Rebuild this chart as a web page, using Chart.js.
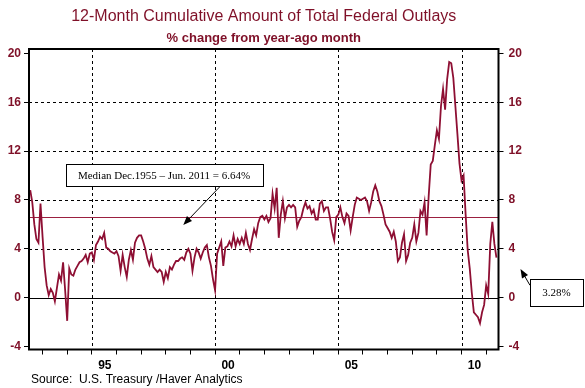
<!DOCTYPE html>
<html>
<head>
<meta charset="utf-8">
<script src="https://cdn.jsdelivr.net/npm/chart.js@4.4.0/dist/chart.umd.min.js"></script>
<style>
  html, body { margin: 0; padding: 0; background: #fff; }
  #wrap { width: 585px; height: 388px; }
</style>
</head>
<body>
<div id="wrap"><canvas id="outlaysChart" width="585" height="388"></canvas></div>
<script>
// 12-month cumulative federal outlays, % change y/y, monthly Jul 1992 - Jun 2011
var startYear = 1992;
var startMonth = 7;
var outlaysPct = [
  8.8, 7.8, 6.0, 4.8, 4.5, 7.7, 5.0, 2.5, 1.0, 0.2, 0.7, 0.4,
  -0.3, 0.8, 1.9, 1.4, 2.9, 0.6, -1.9, 2.4, 1.9, 1.8, 2.3, 2.6,
  2.9, 3.0, 3.2, 3.5, 2.9, 3.6, 3.7, 3.1, 4.3, 4.6, 5.0, 4.8,
  5.3, 4.1, 4.0, 3.8, 3.7, 3.6, 3.8, 3.4, 2.2, 3.5, 2.5, 1.7,
  3.1, 3.9, 3.1, 4.5, 4.9, 5.1, 5.1, 4.6, 4.0, 3.2, 2.7, 3.4,
  2.5, 2.3, 2.1, 2.3, 2.1, 1.3, 2.1, 1.6, 2.5, 2.3, 2.7, 3.0,
  3.0, 3.2, 3.3, 3.1, 3.7, 4.0, 3.6, 2.2, 3.3, 4.0, 3.7, 3.2,
  3.7, 4.1, 4.3, 3.3, 2.6, 1.5, 0.6, 3.6, 4.1, 4.6, 2.6, 4.1,
  4.2, 4.6, 4.2, 5.1, 4.2, 4.8, 4.4, 4.9, 4.4, 5.3, 4.4, 3.9,
  4.8, 5.6, 5.1, 6.1, 6.6, 6.7, 6.4, 6.7, 6.2, 6.5, 8.5, 7.3,
  9.0, 4.9, 6.8, 7.9, 6.5, 7.4, 7.6, 7.4, 7.6, 7.4, 5.8, 6.3,
  6.6, 7.3, 7.8, 7.3, 7.5, 6.9, 7.2, 6.4, 6.4, 7.7, 7.9, 7.1,
  7.4, 7.4, 6.5, 5.4, 4.7, 6.6, 6.8, 7.4, 6.6, 6.1, 6.9, 6.7,
  5.5, 6.6, 7.6, 8.2, 8.1, 8.0, 8.1, 8.2, 7.9, 7.1, 7.8, 8.7,
  9.2, 8.7, 7.9, 7.5, 6.8, 6.0, 5.7, 5.4, 4.9, 5.4, 4.6, 3.0,
  3.3, 4.5, 5.2, 3.0, 3.5, 4.5, 4.9, 6.0, 4.6, 5.3, 7.1, 6.8,
  7.8, 5.1, 8.3, 10.9, 11.2, 12.5, 13.7, 13.0, 15.7, 17.1, 15.4, 17.9,
  19.3, 19.2, 18.0, 15.7, 13.4, 11.0, 9.6, 10.0, 6.8, 3.9, 2.4, 0.4,
  -1.2, -1.4, -1.6, -2.1, -1.2, -0.6, 1.0, 0.3, 4.4, 6.2, 4.4, 3.28
];
var medianPct = 6.64;
var lastPct = 3.28;

var yTicks = [-4, 0, 4, 8, 12, 16, 20];
var yGridDashed = [4, 8, 12, 16];
var yearTicks = [1993, 1994, 1995, 1996, 1997, 1998, 1999, 2000, 2001, 2002,
                 2003, 2004, 2005, 2006, 2007, 2008, 2009, 2010, 2011];
var labelYears = [1995, 2000, 2005, 2010];
var labelText = ['95', '00', '05', '10'];

var titleText = '12-Month Cumulative Amount of Total Federal Outlays';
var subTitleText = '% change from year-ago month';
var sourceText = 'Source:  U.S. Treasury /Haver Analytics';
var medianNote = 'Median Dec.1955 \u2013 Jun. 2011 = 6.64%';

var points = outlaysPct.map(function (v, i) {
  return { x: startYear + (startMonth - 1 + i) / 12, y: v };
});

var RED = '#7f1028';
var LINE = '#8e0f33';

function arrow(c, x1, y1, x2, y2) {
  var ang = Math.atan2(y2 - y1, x2 - x1);
  c.beginPath();
  c.moveTo(x1, y1);
  c.lineTo(x2 - 6 * Math.cos(ang), y2 - 6 * Math.sin(ang));
  c.stroke();
  c.beginPath();
  c.moveTo(x2, y2);
  c.lineTo(x2 - 9 * Math.cos(ang) + 3.5 * Math.sin(ang), y2 - 9 * Math.sin(ang) - 3.5 * Math.cos(ang));
  c.lineTo(x2 - 9 * Math.cos(ang) - 3.5 * Math.sin(ang), y2 - 9 * Math.sin(ang) + 3.5 * Math.cos(ang));
  c.closePath();
  c.fill();
}

var decor = {
  id: 'decor',
  beforeDatasetsDraw: function (chart) {
    var c = chart.ctx, a = chart.chartArea, xs = chart.scales.x, ys = chart.scales.y;
    c.save();
    c.lineWidth = 1;
    c.strokeStyle = '#000';
    c.setLineDash([3, 3]);
    yGridDashed.forEach(function (v) {
      var py = Math.round(ys.getPixelForValue(v)) + 0.5;
      c.beginPath(); c.moveTo(a.left, py); c.lineTo(a.right, py); c.stroke();
    });
    labelYears.forEach(function (yr) {
      var px = Math.round(xs.getPixelForValue(yr)) + 0.5;
      c.beginPath(); c.moveTo(px, a.top); c.lineTo(px, a.bottom); c.stroke();
    });
    c.setLineDash([]);
    var p0 = Math.round(ys.getPixelForValue(0)) + 0.5;
    c.beginPath(); c.moveTo(a.left, p0); c.lineTo(a.right, p0); c.stroke();
    var pm = Math.round(ys.getPixelForValue(medianPct)) + 0.5;
    c.strokeStyle = '#9b2040';
    c.beginPath(); c.moveTo(a.left, pm); c.lineTo(a.right, pm); c.stroke();
    c.restore();
  },
  afterDraw: function (chart) {
    var c = chart.ctx, a = chart.chartArea, xs = chart.scales.x, ys = chart.scales.y;
    c.save();
    // frame
    c.strokeStyle = '#000';
    c.lineWidth = 2;
    c.strokeRect(a.left, a.top, a.right - a.left, a.bottom - a.top);

    // titles
    var cx = (a.left + a.right) / 2;
    c.fillStyle = RED;
    c.textAlign = 'center';
    c.textBaseline = 'middle';
    c.font = '16px "Liberation Sans", Arial, sans-serif';
    c.fillText(titleText, cx, 17);
    c.font = 'bold 13px "Liberation Sans", Arial, sans-serif';
    c.fillText(subTitleText, cx, 38);

    // source
    c.fillStyle = '#000';
    c.textAlign = 'left';
    c.font = '12px "Liberation Sans", Arial, sans-serif';
    c.fillText(sourceText, 31, 380);

    // median note
    c.lineWidth = 1;
    var bx = xs.getPixelForValue(1997.93), by = ys.getPixelForValue(10.07);
    var bw = 197, bh = 22;
    c.fillStyle = '#fff';
    c.fillRect(Math.round(bx - bw / 2) + 0.5, Math.round(by - bh / 2) + 0.5, bw, bh);
    c.strokeRect(Math.round(bx - bw / 2) + 0.5, Math.round(by - bh / 2) + 0.5, bw, bh);
    c.fillStyle = '#000';
    c.textAlign = 'center';
    c.font = '11px "Liberation Serif", "Times New Roman", serif';
    c.fillText(medianNote, bx, by + 1);
    arrow(c, xs.getPixelForValue(2000.19), ys.getPixelForValue(9.08),
             xs.getPixelForValue(1998.71), ys.getPixelForValue(5.95));

    // last value note
    var rx = a.right + 31.5, ry = ys.getPixelForValue(1.5);
    c.fillStyle = '#fff';
    c.fillRect(Math.round(rx) + 0.5, Math.round(ry) + 0.5, 53, 27);
    c.strokeRect(Math.round(rx) + 0.5, Math.round(ry) + 0.5, 53, 27);
    c.fillStyle = '#000';
    c.fillText(lastPct.toFixed(2) + '%', rx + 26.5, ry + 14);
    arrow(c, rx, ry + 6, a.right + 22, ys.getPixelForValue(2.35));
    c.restore();
  }
};

var yTickOpts = function (pad) {
  return {
    color: RED,
    padding: pad,
    font: { family: '"Liberation Sans", Arial, sans-serif', size: 12, weight: 'bold' },
    callback: function (v) { return String(v); }
  };
};

new Chart(document.getElementById('outlaysChart'), {
  type: 'line',
  data: {
    datasets: [{
      data: points,
      borderColor: LINE,
      borderWidth: 1.8,
      pointRadius: 0,
      tension: 0,
      fill: false,
      yAxisID: 'y'
    }]
  },
  options: {
    responsive: false,
    animation: false,
    events: [],
    layout: { padding: { top: 49, left: 0, right: 0, bottom: 0 } },
    plugins: { legend: { display: false }, tooltip: { enabled: false } },
    scales: {
      x: {
        type: 'linear',
        min: 1992.45,
        max: 2011.5,
        afterBuildTicks: function (s) { s.ticks = yearTicks.map(function (v) { return { value: v }; }); },
        afterFit: function (s) { s.height = 38.5; },
        border: { display: false },
        grid: { drawOnChartArea: false, drawTicks: true, tickLength: 5, tickColor: '#000', tickWidth: 1 },
        ticks: {
          autoSkip: false,
          maxRotation: 0,
          labelOffset: 13,
          padding: 4,
          color: '#000',
          font: { family: '"Liberation Sans", Arial, sans-serif', size: 12, weight: 'bold' },
          callback: function (v) {
            var k = labelYears.indexOf(v);
            return k >= 0 ? labelText[k] : '';
          }
        }
      },
      y: {
        position: 'left',
        min: -4.25,
        max: 20.37,
        afterBuildTicks: function (s) { s.ticks = yTicks.map(function (v) { return { value: v }; }); },
        afterFit: function (s) { s.width = 29; },
        border: { display: false },
        grid: { drawOnChartArea: false, drawTicks: true, tickLength: 5, tickColor: '#000', tickWidth: 1 },
        ticks: yTickOpts(3)
      },
      y2: {
        position: 'right',
        min: -4.25,
        max: 20.37,
        afterBuildTicks: function (s) { s.ticks = yTicks.map(function (v) { return { value: v }; }); },
        afterFit: function (s) { s.width = 86.5; },
        border: { display: false },
        grid: { drawOnChartArea: false, drawTicks: true, tickLength: 5, tickColor: '#000', tickWidth: 1 },
        ticks: yTickOpts(5)
      }
    }
  },
  plugins: [decor]
});
</script>
</body>
</html>
